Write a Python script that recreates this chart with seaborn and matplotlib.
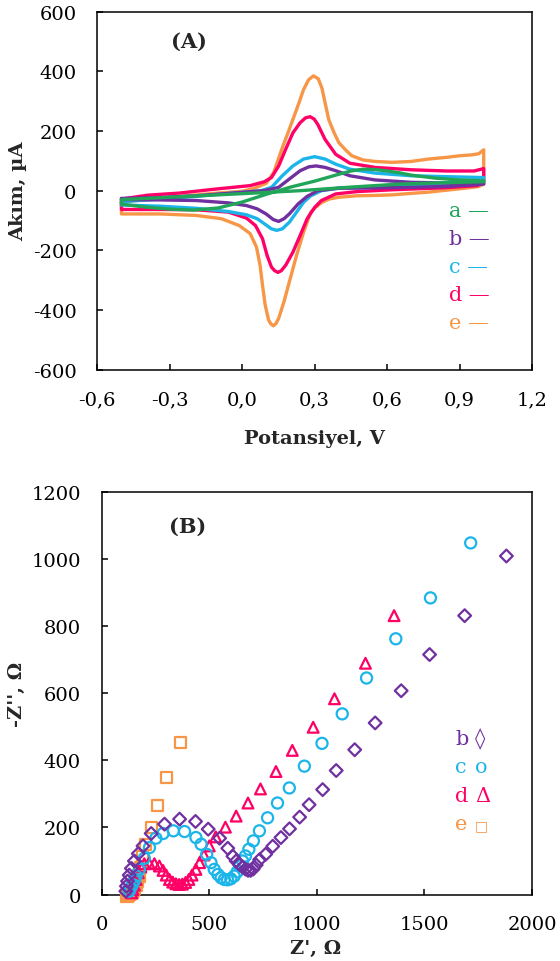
import matplotlib
matplotlib.use("Agg")
import matplotlib.pyplot as plt
from matplotlib.ticker import FuncFormatter, MultipleLocator
import pandas as pd
import seaborn as sns

# (A) cyclic voltammograms, potential (V) and current (uA)
a_E = [-0.5, -0.4, -0.3, -0.2, -0.1, -0.05, 0.0, 0.05, 0.1, 0.15, 0.2, 0.3, 0.4, 0.45, 0.5, 0.55, 0.6, 0.65, 0.7, 0.8, 0.9, 1.0,
       1.0, 0.8, 0.65, 0.45, 0.24, 0.0, -0.175, -0.35, -0.5, -0.5]
a_I = [-45, -55, -62, -65, -58, -48, -38, -25, -12, 0, 12, 32, 55, 66, 72, 71, 66, 60, 52, 42, 36, 33,
       30, 26, 22, 12, 0, -10, -17, -24, -30, -45]

b_E = [-0.5, -0.34, -0.19, -0.04, 0.09, 0.15, 0.195, 0.24, 0.276, 0.306, 0.343, 0.387, 0.446, 0.55, 0.7, 0.845, 1.0,
       1.0, 0.845, 0.62, 0.4, 0.313, 0.269, 0.232, 0.195, 0.173, 0.151, 0.129, 0.099, 0.062, 0.018, -0.056, -0.19, -0.34, -0.5, -0.5]
b_I = [-26, -23, -17, -8, 0, 11, 39, 67, 80, 83, 78, 67, 50, 36, 28, 26, 28,
       22, 14, 10, 8, 0, -19, -44, -78, -94, -103, -97, -78, -61, -50, -41, -33, -31, -30, -26]

c_E = [-0.5, -0.34, -0.19, -0.04, 0.077, 0.121, 0.166, 0.21, 0.254, 0.3, 0.343, 0.387, 0.446, 0.55, 0.7, 0.845, 1.0,
       1.0, 0.845, 0.62, 0.4, 0.328, 0.284, 0.254, 0.225, 0.195, 0.166, 0.143, 0.121, 0.092, 0.062, 0.018, -0.056, -0.19, -0.34, -0.5, -0.5]
c_I = [-37, -28, -19, -8, 0, 11, 50, 83, 106, 114, 106, 89, 72, 59, 50, 47, 44,
       30, 22, 14, 9, 0, -17, -39, -72, -106, -128, -133, -128, -111, -94, -81, -70, -59, -52, -48, -37]

d_E = [-0.5, -0.39, -0.26, -0.115, 0.033, 0.092, 0.121, 0.151, 0.18, 0.21, 0.24, 0.262, 0.281, 0.298, 0.313, 0.343, 0.387, 0.446, 0.55, 0.7, 0.845, 0.96, 1.0,
       1.0, 0.975, 0.845, 0.62, 0.476, 0.387, 0.328, 0.3, 0.269, 0.24, 0.21, 0.18, 0.162, 0.148, 0.134, 0.121, 0.103, 0.084, 0.055, 0.018, -0.056, -0.19, -0.34, -0.5, -0.5]
d_I = [-28, -15, -8, 5, 17, 30, 44, 83, 139, 194, 228, 244, 248, 240, 222, 172, 122, 92, 78, 70, 66, 66, 74,
       33, 17, 10, 3, -3, -11, -33, -56, -94, -150, -206, -250, -268, -274, -268, -256, -217, -161, -117, -92, -72, -64, -63, -63, -28]

e_E = [-0.5, -0.4, -0.3, -0.2, -0.1, 0.0, 0.05, 0.1, 0.13, 0.166, 0.19, 0.21, 0.233, 0.254, 0.275, 0.295, 0.315, 0.33, 0.358, 0.38,
       0.4, 0.43, 0.454, 0.5, 0.55, 0.62, 0.7, 0.77, 0.85, 0.9, 0.95, 0.98, 1.0,
       1.0, 0.98, 0.92, 0.85, 0.77, 0.7, 0.62, 0.55, 0.476, 0.4, 0.36, 0.328, 0.305, 0.284, 0.254, 0.225, 0.195, 0.173, 0.151,
       0.14, 0.129, 0.118, 0.109, 0.095, 0.084, 0.074, 0.059, 0.033, -0.012, -0.086, -0.19, -0.34, -0.5, -0.5]
e_I = [-38, -30, -22, -15, -8, -2, 8, 25, 60, 144, 195, 239, 290, 339, 372, 385, 375, 344, 239, 195,
       161, 135, 117, 103, 98, 95, 98, 106, 112, 117, 120, 124, 137,
       22, 14, 8, 2, -5, -9, -14, -16, -17, -22, -28, -40, -55, -72, -139, -217, -306, -372, -428,
       -445, -453, -446, -433, -383, -317, -250, -189, -144, -117, -94, -83, -78, -78, -38]

# (B) Nyquist plots, Z' and -Z'' (ohm)
b_Zre = [112, 115, 120, 128, 138, 152, 170, 192, 230, 292, 362, 436, 495, 548, 586, 610, 625, 640, 655, 668, 680, 692,
         704, 718, 734, 762, 795, 833, 873, 920, 964, 1027, 1090, 1176, 1271, 1392, 1524, 1687, 1881]
b_Zim = [10, 25, 40, 58, 78, 100, 122, 145, 182, 210, 225, 218, 195, 168, 138, 114, 100, 90, 82, 76, 72, 72,
         76, 88, 104, 120, 144, 170, 196, 231, 268, 313, 370, 432, 512, 608, 716, 832, 1010]

c_Zre = [128, 135, 143, 152, 160, 175, 198, 222, 252, 285, 333, 385, 438, 462, 488, 508, 523, 540, 555, 570, 585, 600,
         616, 630, 642, 655, 668, 684, 705, 733, 771, 817, 872, 942, 1024, 1118, 1231, 1367, 1528, 1715]
c_Zim = [10, 20, 30, 42, 55, 75, 108, 140, 168, 182, 190, 188, 170, 150, 120, 95, 75, 60, 50, 45, 44, 47,
         55, 68, 85, 100, 115, 135, 160, 190, 229, 273, 318, 383, 451, 539, 646, 763, 885, 1049]

d_Zre = [140, 145, 152, 160, 170, 182, 198, 220, 245, 268, 285, 300, 315, 330, 345, 360, 375, 390, 405, 420, 438, 455,
         475, 500, 530, 575, 625, 680, 738, 810, 886, 983, 1082, 1226, 1359]
d_Zim = [5, 15, 28, 45, 65, 83, 92, 94, 92, 85, 72, 58, 45, 37, 32, 30, 31, 36, 45, 58, 75, 95,
         118, 145, 172, 201, 234, 273, 315, 367, 430, 499, 584, 690, 832]

e_Zre = [118, 124, 130, 136, 142, 148, 154, 160, 166, 174, 182, 190, 205, 230, 260, 300, 365]
e_Zim = [-5, -3, 0, 3, 7, 12, 18, 26, 38, 55, 80, 112, 150, 200, 265, 350, 454]

colors = {"a": "#21A559", "b": "#7030A0", "c": "#1CB5EA", "d": "#FF0066", "e": "#F79646"}

cv = pd.concat([
    pd.DataFrame({"E": a_E, "I": a_I, "curve": "a"}),
    pd.DataFrame({"E": b_E, "I": b_I, "curve": "b"}),
    pd.DataFrame({"E": c_E, "I": c_I, "curve": "c"}),
    pd.DataFrame({"E": d_E, "I": d_I, "curve": "d"}),
    pd.DataFrame({"E": e_E, "I": e_I, "curve": "e"}),
])

eis = {
    "b": (b_Zre, b_Zim, "D", 42),
    "c": (c_Zre, c_Zim, "o", 64),
    "d": (d_Zre, d_Zim, "^", 60),
    "e": (e_Zre, e_Zim, "s", 66),
}

sns.set_style("ticks")
plt.rcParams["font.family"] = ["DejaVu Serif", "DejaVu Sans"]
plt.rcParams["axes.unicode_minus"] = False
plt.rcParams["axes.linewidth"] = 1.1

fig = plt.figure(figsize=(5.6, 9.62), dpi=100)
axA = fig.add_axes([0.1738, 0.6147, 0.7762, 0.3721])
axB = fig.add_axes([0.1816, 0.0691, 0.7684, 0.4181])

# panel A
for name in ["e", "d", "c", "b", "a"]:
    sub = cv[cv["curve"] == name]
    sns.lineplot(data=sub, x="E", y="I", sort=False, estimator=None, color=colors[name],
                 lw=2.4, ax=axA, solid_joinstyle="round", solid_capstyle="round")

axA.set_xlim(-0.6, 1.2)
axA.set_ylim(-600, 600)
axA.xaxis.set_major_locator(MultipleLocator(0.3))
axA.yaxis.set_major_locator(MultipleLocator(200))
axA.xaxis.set_major_formatter(FuncFormatter(lambda v, p: f"{round(v, 1) + 0.0:.1f}".replace(".", ",")))
axA.set_xlabel("Potansiyel, V", fontsize=14, fontweight="bold")
axA.set_ylabel("Akım, µA", fontsize=14, fontweight="bold")
axA.xaxis.set_label_coords(0.5, -0.166)
axA.yaxis.set_label_coords(-0.162, 0.5)
axA.text(0.211, 0.918, "(A)", transform=axA.transAxes, fontsize=15, fontweight="bold",
         ha="center", va="center")

legA_y = [0.430, 0.352, 0.273, 0.195, 0.1165]
for name, y in zip(["a", "b", "c", "d", "e"], legA_y):
    axA.text(0.809, y, f"{name} —", transform=axA.transAxes, color=colors[name],
             fontsize=15, va="baseline", ha="left")

# panel B
for name in ["e", "d", "c", "b"]:
    zr, zi, m, s = eis[name]
    sns.scatterplot(x=zr, y=zi, marker=m, s=s, facecolor="none", edgecolor=colors[name],
                    linewidth=1.6, ax=axB, clip_on=False, zorder=3)

axB.set_xlim(0, 2000)
axB.set_ylim(0, 1200)
axB.xaxis.set_major_locator(MultipleLocator(500))
axB.yaxis.set_major_locator(MultipleLocator(200))
axB.set_xlabel("Z', Ω", fontsize=14, fontweight="bold")
axB.set_ylabel("-Z'', Ω", fontsize=14, fontweight="bold")
axB.xaxis.set_label_coords(0.498, -0.1106)
axB.yaxis.set_label_coords(-0.176, 0.5)
axB.text(0.2, 0.916, "(B)", transform=axB.transAxes, fontsize=15, fontweight="bold",
         ha="center", va="center")

legB = [("b", "◊", 0.374, 15), ("c", "o", 0.304, 15), ("d", "Δ", 0.233, 15), ("e", "□", 0.163, 10)]
for name, sym, y, fs in legB:
    axB.text(0.821, y, name, transform=axB.transAxes, color=colors[name],
             fontsize=15, va="baseline", ha="left")
    axB.text(0.868, y, sym, transform=axB.transAxes, color=colors[name],
             fontsize=fs, va="baseline", ha="left")

for ax in (axA, axB):
    ax.tick_params(direction="in", length=4.5, width=1.1, labelsize=14, pad=15, colors="black")
    for sp in ax.spines.values():
        sp.set_visible(True)
        sp.set_color("black")

fig.savefig("out.png", dpi=100)
